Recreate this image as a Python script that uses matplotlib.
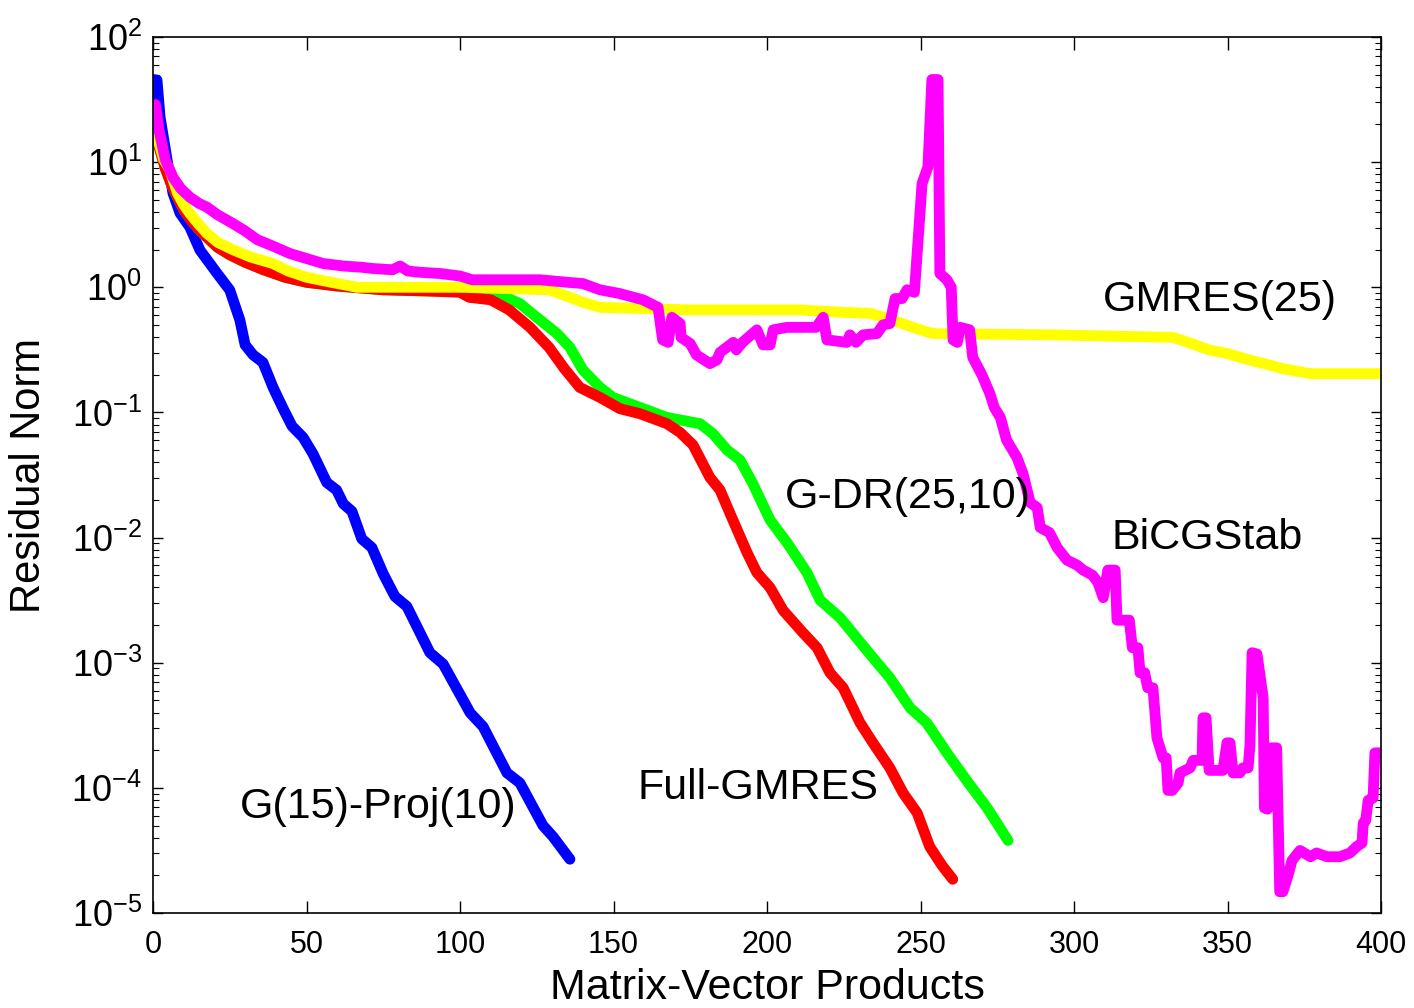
import numpy as np
import matplotlib
matplotlib.use("Agg")
import matplotlib.pyplot as plt
from matplotlib.ticker import LogLocator, FixedLocator, NullFormatter

plt.rcParams["font.family"] = ["Liberation Sans", "DejaVu Sans"]
plt.rcParams["mathtext.fontset"] = "custom"
plt.rcParams["mathtext.rm"] = "Liberation Sans"
plt.rcParams["mathtext.it"] = "Liberation Sans:italic"
plt.rcParams["mathtext.bf"] = "Liberation Sans:bold"

# residual histories, stored as log10 of the residual norm
proj_mvp = [0, 1.3, 2.3, 4.6, 6.5, 8.8, 12, 15.3, 20.8, 25, 28.3, 30, 32.6, 35.8,
            39.1, 42.4, 45.3, 48.9, 52.1, 56.6, 59.8, 62, 64.8, 68, 71.3, 75, 78.8,
            82.7, 90.2, 94.5, 103.3, 107.5, 115.3, 119.5, 127, 130.3, 135.8]
proj_log = [1.66, 1.656, 1.36, 1.017, 0.753, 0.593, 0.481, 0.297, 0.114, -0.022,
            -0.262, -0.46, -0.54, -0.60, -0.80, -0.97, -1.11, -1.20, -1.33, -1.56,
            -1.62, -1.73, -1.79, -2.01, -2.08, -2.29, -2.47, -2.55, -2.92, -3.01,
            -3.40, -3.51, -3.88, -3.96, -4.30, -4.39, -4.57]

full_mvp = [0.6, 2, 4, 6, 8, 10, 12, 15, 18, 21, 25, 30, 36, 43, 50, 60, 75, 90,
            100, 103, 110, 116, 122.8, 129, 134, 139, 145.6, 152.1, 158.6, 167.4,
            171.7, 175.9, 181.4, 184.7, 188, 193.5, 196.7, 201, 205.2, 211.7, 216.3,
            220.5, 224.8, 230.3, 234.5, 240, 244.3, 248.9, 253, 257, 260.5]
full_log = [1.37, 1.12, 0.95, 0.82, 0.72, 0.62, 0.55, 0.46, 0.39, 0.32, 0.26, 0.20,
            0.14, 0.08, 0.04, 0.01, -0.02, -0.03, -0.04, -0.08, -0.10, -0.18, -0.32,
            -0.48, -0.65, -0.80, -0.88, -0.97, -1.01, -1.09, -1.16, -1.26, -1.52,
            -1.62, -1.81, -2.12, -2.28, -2.40, -2.58, -2.76, -2.88, -3.08, -3.20,
            -3.48, -3.64, -3.84, -4.04, -4.20, -4.47, -4.62, -4.73]

gdr_mvp = [0.6, 2, 4, 6, 8, 10, 12, 15, 18, 21, 25, 30, 36, 43, 50, 60, 75, 90, 100,
           106, 113, 119.5, 125, 131.6, 135.8, 140, 145.6, 149.8, 156.4, 167.4, 178.2,
           182.4, 187, 191.2, 195.4, 201, 206.5, 213, 217.3, 223.8, 234.5, 240, 246.6,
           252, 258.6, 265, 271.7, 278.5]
gdr_log = [1.37, 1.12, 0.95, 0.82, 0.72, 0.62, 0.55, 0.46, 0.39, 0.32, 0.26, 0.20,
           0.14, 0.08, 0.04, 0.01, -0.02, -0.03, -0.03, -0.04, -0.06, -0.13, -0.24,
           -0.37, -0.48, -0.66, -0.80, -0.88, -0.94, -1.04, -1.09, -1.17, -1.30, -1.38,
           -1.57, -1.86, -2.04, -2.28, -2.50, -2.64, -2.96, -3.12, -3.36, -3.48, -3.72,
           -3.94, -4.16, -4.42]

restart_mvp = [0.6, 2, 3.5, 5.5, 8, 10, 12, 15, 17.6, 21, 26, 32, 39, 44, 50, 58,
               66.4, 80, 100, 115, 129, 135.8, 140, 145.6, 160, 174, 210, 224.8, 234,
               238, 244, 250, 254, 293, 332, 336, 344, 350, 357, 362, 368, 377, 400]
restart_log = [1.39, 1.15, 1.02, 0.94, 0.75, 0.66, 0.59, 0.50, 0.43, 0.36, 0.30,
               0.24, 0.19, 0.13, 0.08, 0.04, 0.0, 0.0, 0.0, -0.01, -0.02, -0.08, -0.12,
               -0.16, -0.17, -0.18, -0.18, -0.20, -0.21, -0.24, -0.29, -0.34, -0.37,
               -0.38, -0.40, -0.43, -0.50, -0.53, -0.58, -0.61, -0.65, -0.69, -0.69]

bicg_mvp = [0.8, 2, 4, 6.5, 9, 12, 15, 17.6, 21, 26, 30, 34, 39, 44.6, 50, 55.4, 62,
            68, 71.7, 78, 80.5, 83, 87, 93.5, 100, 104, 115, 126, 135, 140, 145.6, 152,
            159.6, 164.5, 166, 167.8, 169, 171.7, 172, 175, 177, 181.4, 183.7, 184.7,
            189, 190, 192, 196.7, 198.7, 201, 202, 206.5, 216, 218.3, 219.5, 226, 227,
            229, 231.3, 235.8, 237.8, 240, 241.7, 244, 245.6, 248, 248.7, 250.5, 252.4,
            253.7, 255.7, 256.3, 258.6, 260, 260.6, 262, 262.9, 266, 267, 270, 272.6,
            274, 276, 278, 281.4, 283.4, 285.7, 288, 289, 292, 294.5, 297.7, 301, 303,
            306, 307.8, 309.5, 311, 313.4, 314, 318, 319, 320.8, 321.5, 323, 324, 325.7,
            327, 329, 330, 330.6, 332, 333.9, 334.5, 337.8, 338.8, 341.7, 342, 343, 344,
            348.5, 349.8, 350.8, 351.8, 354, 355, 356.7, 357.3, 358, 359.6, 361.6, 362,
            363, 364.3, 366, 367, 368, 369.7, 371, 373.6, 377, 379, 382.4, 386.6, 389.9,
            392, 393.8, 394.2, 395, 395.8, 397.4, 398, 400]
bicg_log = [1.46, 1.25, 1.02, 0.88, 0.79, 0.72, 0.67, 0.64, 0.58, 0.51, 0.45, 0.38,
            0.33, 0.27, 0.23, 0.19, 0.17, 0.16, 0.15, 0.14, 0.17, 0.13, 0.12, 0.11, 0.09,
            0.06, 0.06, 0.06, 0.04, 0.03, -0.02, -0.05, -0.10, -0.16, -0.42, -0.44,
            -0.24, -0.29, -0.40, -0.45, -0.54, -0.61, -0.58, -0.52, -0.44, -0.50, -0.44,
            -0.34, -0.46, -0.46, -0.34, -0.32, -0.32, -0.24, -0.42, -0.44, -0.38, -0.44,
            -0.38, -0.37, -0.30, -0.29, -0.09, -0.09, -0.02, -0.04, 0.20, 0.83, 0.96,
            1.66, 1.66, 0.11, 0.06, 0.0, -0.42, -0.44, -0.32, -0.34, -0.56, -0.70, -0.85,
            -0.96, -1.04, -1.22, -1.36, -1.49, -1.72, -1.76, -1.92, -1.96, -2.08, -2.18,
            -2.22, -2.26, -2.30, -2.36, -2.48, -2.26, -2.26, -2.66, -2.66, -2.88, -2.88,
            -3.08, -3.08, -3.20, -3.20, -3.60, -3.76, -3.76, -4.02, -4.02, -3.96, -3.88,
            -3.84, -3.78, -3.78, -3.44, -3.44, -3.86, -3.86, -3.64, -3.64, -3.88, -3.88,
            -3.84, -3.84, -3.66, -2.92, -2.93, -3.28, -4.16, -4.17, -3.68, -3.68, -4.83,
            -4.83, -4.70, -4.58, -4.50, -4.55, -4.52, -4.55, -4.55, -4.52, -4.47, -4.44,
            -4.28, -4.26, -4.10, -4.08, -3.72, -3.72]

labels = ["G(15)-Proj(10)", "Full-GMRES", "G-DR(25,10)", "BiCGStab", "GMRES(25)"]
label_x = [73.3, 197, 245.9, 343.3, 347.6]
label_y = [7.1e-5, 1.0e-4, 2.1e-2, 1.0e-2, 0.79]

x_ticks = [0, 50, 100, 150, 200, 250, 300, 350, 400]
y_ticks = [1e-5, 1e-4, 1e-3, 1e-2, 1e-1, 1e0, 1e1, 1e2]
y_tick_labels = ["$10^{-5}$", "$10^{-4}$", "$10^{-3}$", "$10^{-2}$",
                 "$10^{-1}$", "$10^{0}$", "$10^{1}$", "$10^{2}$"]

fig = plt.figure(figsize=(14.14, 10.08), dpi=100)
ax = fig.add_axes([0.1082, 0.0942, 0.8685, 0.8691])

line_kw = dict(linewidth=7.8, solid_capstyle="round", solid_joinstyle="round")
ax.plot(proj_mvp, 10.0 ** np.array(proj_log), color="#0000ff", **line_kw)
ax.plot(gdr_mvp, 10.0 ** np.array(gdr_log), color="#00ff00", **line_kw)
ax.plot(full_mvp, 10.0 ** np.array(full_log), color="#ff0000", **line_kw)
ax.plot(restart_mvp, 10.0 ** np.array(restart_log), color="#ffff00", **line_kw)
ax.plot(bicg_mvp, 10.0 ** np.array(bicg_log), color="#ff00ff", **line_kw)

for text, tx, ty in zip(labels, label_x, label_y):
    ax.text(tx, ty, text, fontsize=31, ha="center", va="center")

ax.set_yscale("log")
ax.set_xlim(0, 400)
ax.set_ylim(1e-5, 1e2)

ax.xaxis.set_major_locator(FixedLocator(x_ticks))
ax.set_xticklabels([str(t) for t in x_ticks])
ax.yaxis.set_major_locator(FixedLocator(y_ticks))
ax.set_yticklabels(y_tick_labels)
ax.yaxis.set_minor_locator(LogLocator(base=10, subs=np.arange(2, 10), numticks=20))
ax.yaxis.set_minor_formatter(NullFormatter())

ax.tick_params(axis="x", which="major", direction="in", top=True, length=9,
               width=1, labelsize=22, pad=12)
ax.tick_params(axis="y", which="major", direction="in", right=True, length=7,
               width=1, labelsize=26, pad=8)
ax.tick_params(axis="y", which="minor", direction="in", right=True, length=4,
               width=0.8)
for spine in ax.spines.values():
    spine.set_linewidth(1.2)

ax.set_xlabel("Matrix-Vector Products", fontsize=31, labelpad=6)
ax.set_ylabel("Residual Norm", fontsize=30, labelpad=16)

fig.savefig("out.png", dpi=100)
